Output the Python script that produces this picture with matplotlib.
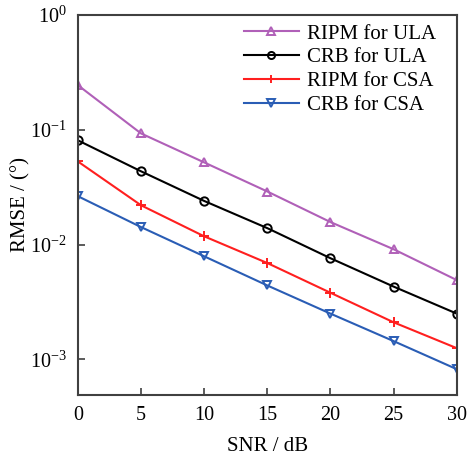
import matplotlib
matplotlib.use("Agg")
import matplotlib.pyplot as plt

plt.rcParams['font.family'] = ['Liberation Serif', 'DejaVu Serif']
plt.rcParams['mathtext.fontset'] = 'stix'

snr = [0, 5, 10, 15, 20, 25, 30]
ripm_ula = [0.245, 0.093, 0.052, 0.029, 0.0157, 0.0091, 0.0049]
crb_ula = [0.081, 0.0435, 0.024, 0.0139, 0.0076, 0.0043, 0.0025]
ripm_csa = [0.053, 0.022, 0.0118, 0.0069, 0.0038, 0.0021, 0.00125]
crb_csa = [0.0264, 0.0142, 0.0079, 0.0044, 0.0025, 0.00144, 0.00082]

fig = plt.figure(figsize=(4.69, 4.57), dpi=100)
ax = fig.add_axes([0.166, 0.136, 0.808, 0.831])

ax.semilogy(snr, ripm_ula, color='#b060b8', marker='^', mfc='none', ms=6, mew=1.4, lw=1.5, label='RIPM for ULA')
ax.semilogy(snr, crb_ula, color='black', marker='o', mfc='none', ms=6, mew=1.4, lw=1.5, label='CRB for ULA')
ax.semilogy(snr, ripm_csa, color='#ff1f1f', marker='+', ms=7, mew=1.4, lw=1.5, label='RIPM for CSA')
ax.semilogy(snr, crb_csa, color='#2a5db5', marker='v', mfc='none', ms=6, mew=1.4, lw=1.5, label='CRB for CSA')

ax.set_xlim(0, 30)
ax.set_ylim(4.9e-4, 1)
ax.set_xticks(snr)
ax.set_yticks([1e-3, 1e-2, 1e-1, 1e0])
ax.minorticks_off()
ax.tick_params(direction='in', length=5, width=1.2, labelsize=14.5, color='#404040', pad=8)
for s in ax.spines.values():
    s.set_color('#404040')
    s.set_linewidth(1.5)

ax.set_xlabel('SNR / dB', fontsize=15, labelpad=9)
ax.set_ylabel('RMSE / (°)', fontsize=15)
ax.yaxis.set_label_coords(-0.125, 0.5)

# legend sits inside the top-right corner, no frame
ax.legend(loc='upper right', fontsize=15, frameon=False,
          bbox_to_anchor=(436 / 469, 1 - 24 / 457), bbox_transform=fig.transFigure,
          borderaxespad=0, borderpad=0, markerscale=0.85,
          handlelength=2.6, labelspacing=0.2, handletextpad=0.4)

fig.savefig('out.png', dpi=100)
